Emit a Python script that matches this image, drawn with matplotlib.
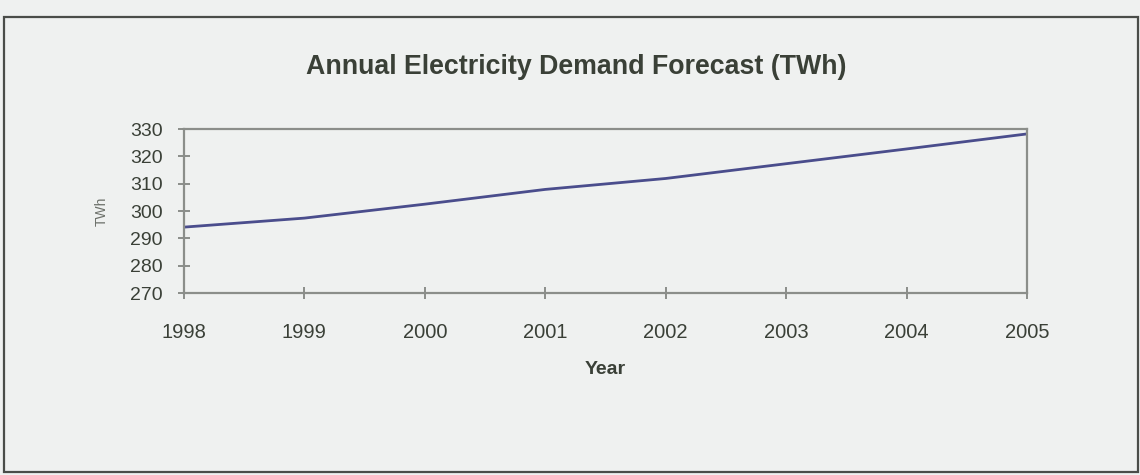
import matplotlib.pyplot as plt
from matplotlib.patches import Rectangle

# forecast demand per year (TWh)
years = [1998, 1999, 2000, 2001, 2002, 2003, 2004, 2005]
demand = [294.1, 297.4, 302.5, 307.9, 311.9, 317.3, 322.7, 328.2]
y_ticks = [270, 280, 290, 300, 310, 320, 330]

paper = '#eff1f0'
ink = '#3a4037'
frame = '#8b8e8a'

plt.rcParams['font.family'] = ['Liberation Sans', 'DejaVu Sans']

fig = plt.figure(figsize=(11.4, 4.75), dpi=100, facecolor=paper)
ax = fig.add_axes([184 / 1140, 1 - 293 / 475, (1027 - 184) / 1140, (293 - 129) / 475])
ax.set_facecolor(paper)

ax.plot(years, demand, color='#4a4d8c', linewidth=2)

ax.set_xlim(1998, 2005)
ax.set_ylim(270, 330)
ax.set_xticks(years)
ax.set_yticks(y_ticks)

for s in ax.spines.values():
    s.set_color(frame)
    s.set_linewidth(1.6)

ax.tick_params(axis='x', direction='inout', length=9, width=1.4, color=frame,
               labelsize=14.5, labelcolor=ink, pad=17)
ax.tick_params(axis='y', direction='inout', length=9, width=1.4, color=frame,
               labelsize=14, labelcolor=ink, pad=11)

ax.set_xlabel('Year', fontsize=14, fontweight='bold', color=ink, labelpad=14)
ax.set_ylabel('TWh', fontsize=10, color='#6c706a', labelpad=15)

fig.text(576 / 1140, 1 - 67 / 475, 'Annual Electricity Demand Forecast (TWh)',
         ha='center', va='center', fontsize=19.3, fontweight='bold', color=ink)

# outer chart border
fig.add_artist(Rectangle((4 / 1140, 3 / 475), 1134 / 1140, 455 / 475,
                         transform=fig.transFigure, fill=False,
                         edgecolor='#4a4d49', linewidth=1.6))

fig.savefig('out.png', dpi=100, facecolor=paper)
